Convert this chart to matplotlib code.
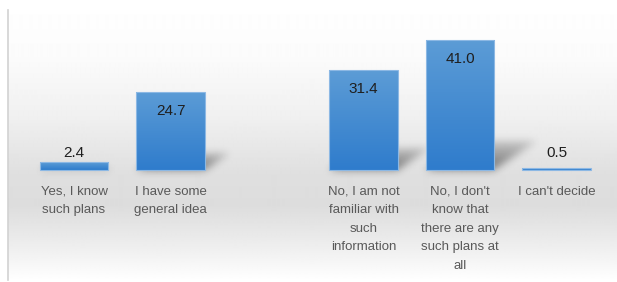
import numpy as np
import matplotlib
matplotlib.use('Agg')
import matplotlib.pyplot as plt
from matplotlib.path import Path
from matplotlib.colors import LinearSegmentedColormap
from matplotlib.lines import Line2D

# survey answers (third slot is an empty gap in the original chart)
categories = ['Yes, I know\nsuch plans', 'I have some\ngeneral idea', '',
              'No, I am not\nfamiliar with\nsuch\ninformation',
              "No, I don't\nknow that\nthere are any\nsuch plans at\nall",
              "I can't decide"]
values = [2.4, 24.7, np.nan, 31.4, 41.0, 0.5]

W, H = 617, 282
fig = plt.figure(figsize=(W / 100, H / 100), dpi=100)
ax = fig.add_axes([0, 0, 1, 1])
xlim = (-0.767, 5.627)
ylim = (-35.3, 53.6)
bw = 0.705
x = np.arange(len(categories))

# background: white top, grey band round the labels, white bottom
rows = np.linspace(0, 1, H)
shade = np.interp(rows, [0, 0.2, 0.42, 0.62, 0.73, 0.85, 1.0],
                  [1.0, 0.985, 0.94, 0.875, 0.865, 0.92, 1.0])
bg = np.repeat(shade[:, None], 2, axis=1)
ax.imshow(bg, cmap='gray', vmin=0, vmax=1, aspect='auto', interpolation='bilinear',
          extent=(xlim[0] + 8 / 96.5, xlim[1], ylim[0], ylim[1]), zorder=0)

# perspective shadows behind the bars (rasterised then blurred)
gx = np.linspace(xlim[0], xlim[1], W)
gy = np.linspace(ylim[1], ylim[0], H)
XX, YY = np.meshgrid(gx, gy)
pts = np.column_stack([XX.ravel(), YY.ravel()])
mask = np.zeros(H * W)
for xi, v in zip(x, values):
    if np.isnan(v):
        continue
    x0, x1 = xi - bw / 2, xi + bw / 2
    s = 0.0108 * v
    hs = 0.22 * v
    poly = Path([(x0, 0), (x1, 0), (x1 + s, hs), (x0 + s, hs)])
    inside = poly.contains_points(pts)
    fade = 1 - np.clip(YY.ravel() / hs, 0, 1) * 0.7
    mask = np.maximum(mask, inside * fade)
mask = mask.reshape(H, W)
k = np.exp(-0.5 * (np.arange(-12, 13) / 4.0) ** 2)
k /= k.sum()
mask = np.apply_along_axis(lambda r: np.convolve(r, k, mode='same'), 1, mask)
mask = np.apply_along_axis(lambda c: np.convolve(c, k, mode='same'), 0, mask)
rgba = np.zeros((H, W, 4))
rgba[..., 3] = mask * 0.5
ax.imshow(rgba, extent=(xlim[0], xlim[1], ylim[0], ylim[1]), aspect='auto', zorder=1)

# bars with vertical gradient fill
blue = LinearSegmentedColormap.from_list('bar', ['#2f7ccc', '#5c9cd6'])
grad = np.linspace(0, 1, 100)[:, None]
for xi, v in zip(x, values):
    if np.isnan(v):
        continue
    b = ax.bar(xi, v, width=bw, color='none', edgecolor='#8cb8e4', linewidth=0.8, zorder=3)[0]
    im = ax.imshow(grad, cmap=blue, aspect='auto', origin='lower',
                   extent=(xi - bw / 2, xi + bw / 2, 0, v), zorder=2)
    im.set_clip_path(b)
    if v > 5:
        ax.annotate(f'{v:.1f}', (xi, v), xytext=(0, -13.7), textcoords='offset points',
                    ha='center', va='center', fontsize=11, color='#1f1f1f',
                    family='Liberation Sans', zorder=4)
    else:
        ax.annotate(f'{v:.1f}', (xi, 0), xytext=(0, 12.6), textcoords='offset points',
                    ha='center', va='center', fontsize=11, color='#1f1f1f',
                    family='Liberation Sans', zorder=4)

for xi, lab in zip(x, categories):
    ax.annotate(lab, (xi, 0), xytext=(0, -11.5), textcoords='offset points',
                ha='center', va='top', fontsize=9.5, color='#595959',
                family='Liberation Sans', linespacing=1.72, zorder=4)

ax.set_xlim(*xlim)
ax.set_ylim(*ylim)
ax.axis('off')

# thin frame line on the left
fig.add_artist(Line2D([7.5 / W, 7.5 / W], [1 - 10 / H, 1 - 280 / H], color='#d2d2d2', lw=1.2))

fig.savefig('out.png', dpi=100)
